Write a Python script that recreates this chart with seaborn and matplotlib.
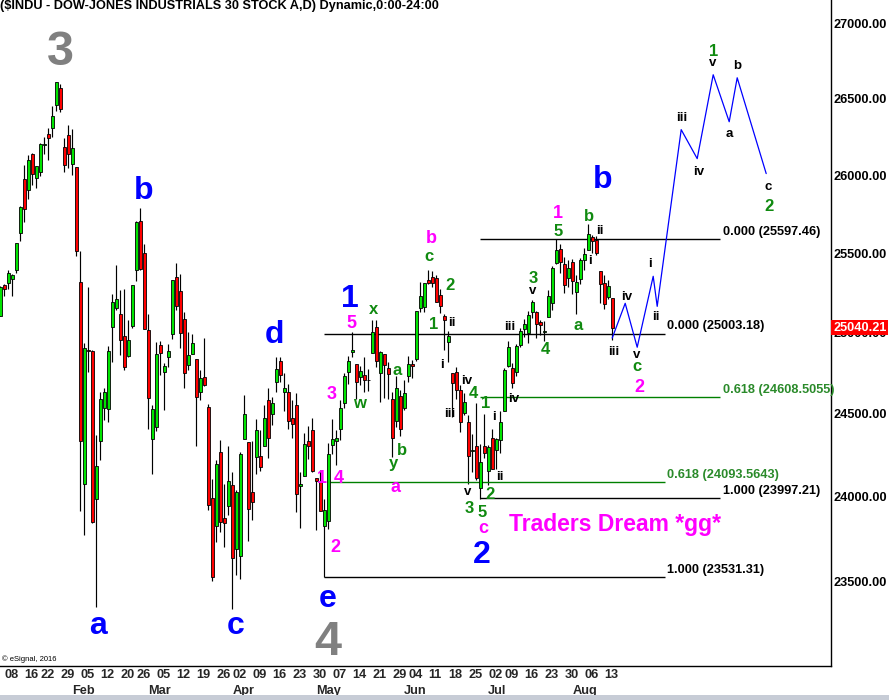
import numpy as np
import pandas as pd
import matplotlib
matplotlib.use("Agg")
import matplotlib.pyplot as plt
import matplotlib.transforms as mtrans
from matplotlib.ticker import NullLocator
import seaborn as sns

# ---------------- data ----------------
holidays = ["2018-01-15", "2018-02-19", "2018-03-30", "2018-05-28", "2018-07-04"]
dates = [d for d in pd.bdate_range("2018-01-05", "2018-08-15")
         if d.strftime("%Y-%m-%d") not in holidays]

opens = [25114, 25308, 25319, 25345, 25400, 25640, 25987, 25916, 26149, 25993,
         26030, 26205, 26279, 26318, 26466, 26580, 26194, 26268, 26083, 26062,
         25328, 24085, 24902, 24896, 23992, 24343, 24541, 24535, 25042, 25165,
         25124, 24990, 24865, 25050, 25400, 25715, 25509, 25025, 24357, 24430,
         24935, 24765, 24855, 25001, 25360, 25271, 25093, 24811, 24877, 24848,
         24644, 24732, 24550, 24003, 23833, 24279, 23880, 23953, 24076, 23697,
         23657, 24353, 24339, 24037, 24246, 24252, 24311, 24592, 24510, 24702,
         24830, 24644, 24643, 24480, 24562, 24071, 24134, 24346, 24410, 24117,
         24097, 23836, 23864, 24317, 24341, 24415, 24575, 24766, 24890, 24816,
         24732, 24749, 24714, 24883, 25047, 24760, 24877, 24787, 24600, 24466,
         24617, 24542, 24739, 24815, 24845, 25161, 25172, 25336, 25356, 25354,
         25245, 25110, 24950, 24760, 24764, 24657, 24512, 24461, 24283, 24315,
         24057, 24310, 24159, 24359, 24291, 24350, 24526, 24803, 24790, 24764,
         24930, 25034, 25008, 25135, 25135, 25075, 25010, 25104, 25195, 25447,
         25533, 25440, 25350, 25452, 25263, 25342, 25464, 25531, 25609, 25590,
         25398, 25320, 25229, 25227]
highs = [25299, 25311, 25399, 25375, 25575, 25812, 26075, 26140, 26154, 26071,
         26215, 26257, 26318, 26458, 26617, 26609, 26252, 26338, 26307, 26062,
         25520, 24946, 25294, 24903, 24382, 24640, 24668, 24925, 25250, 25433,
         25274, 25285, 25089, 25310, 25712, 25800, 25568, 25123, 24565, 24950,
         24955, 24818, 24937, 25336, 25449, 25378, 25139, 25015, 25000, 24848,
         24776, 24976, 24566, 24111, 24226, 24352, 24086, 24312, 24153, 24045,
         24277, 24622, 24339, 24346, 24478, 24410, 24561, 24667, 24610, 24856,
         24859, 24761, 24689, 24590, 24636, 24158, 24393, 24432, 24485, 24117,
         24166, 23996, 24331, 24479, 24412, 24595, 24761, 24866, 25012, 24816,
         24800, 24855, 24781, 25086, 25086, 24894, 24877, 24828, 24640, 24740,
         24654, 24717, 24866, 24839, 25146, 25326, 25317, 25402, 25398, 25373,
         25280, 25122, 25017, 24760, 24794, 24682, 24636, 24504, 24388, 24574,
         24327, 24509, 24318, 24418, 24364, 24526, 24790, 24958, 24818, 24938,
         25040, 25093, 25145, 25213, 25143, 25090, 25083, 25274, 25428, 25597,
         25566, 25486, 25465, 25474, 25373, 25480, 25542, 25692, 25624, 25618,
         25398, 25370, 25338, 25227]
lows = [25112, 25235, 25279, 25235, 25386, 25588, 25705, 25858, 25943, 25924,
        26005, 26145, 26110, 26260, 26430, 26423, 26030, 26056, 26010, 25490,
        23923, 23778, 24767, 23850, 23360, 24228, 24471, 24459, 24828, 25149,
        24873, 24780, 24855, 25038, 25334, 25400, 25029, 24417, 24144, 24401,
        24745, 24530, 24797, 24968, 25150, 24911, 24667, 24780, 24877, 24311,
        24590, 24681, 23928, 23509, 23737, 23800, 23710, 23900, 23344, 23547,
        23523, 24353, 23743, 23870, 24142, 24163, 24311, 24243, 24440, 24643,
        24701, 24525, 24418, 24363, 23914, 23823, 24134, 24232, 24156, 23808,
        23922, 23531, 23815, 24263, 24198, 24348, 24542, 24692, 24857, 24599,
        24686, 24643, 24645, 24883, 24796, 24583, 24604, 24600, 24247, 24431,
        24374, 24534, 24706, 24731, 24830, 25136, 25137, 25312, 25294, 25200,
        25131, 24900, 24828, 24491, 24602, 24397, 24501, 24085, 24158, 24107,
        23997, 24241, 24078, 24174, 24174, 24272, 24526, 24795, 24667, 24741,
        24917, 24979, 24946, 25101, 24977, 24993, 24956, 25104, 25151, 25440,
        25384, 25259, 25296, 25253, 25124, 25312, 25403, 25530, 25510, 25499,
        25197, 25159, 25218, 24965]
closes = [25296, 25283, 25386, 25370, 25575, 25803, 25792, 26110, 26017, 26066,
          26214, 26211, 26253, 26392, 26617, 26440, 26077, 26149, 26187, 25521,
          24346, 24913, 24893, 23860, 24191, 24601, 24640, 24893, 25200, 25219,
          24965, 24798, 24962, 25310, 25709, 25410, 25029, 24608, 24538, 24874,
          24884, 24801, 24895, 25336, 25178, 25007, 24758, 24873, 24946, 24611,
          24727, 24683, 23958, 23533, 24202, 23858, 23849, 24103, 23644, 24033,
          24265, 24505, 23933, 23979, 24408, 24189, 24483, 24360, 24573, 24786,
          24748, 24665, 24463, 24448, 24024, 24084, 24322, 24311, 24163, 24100,
          23925, 23930, 24263, 24357, 24361, 24542, 24739, 24831, 24899, 24706,
          24769, 24714, 24715, 25013, 24834, 24887, 24811, 24753, 24362, 24667,
          24416, 24635, 24813, 24799, 25146, 25241, 25317, 25322, 25320, 25201,
          25175, 25090, 24987, 24700, 24657, 24461, 24580, 24252, 24284, 24117,
          24216, 24271, 24307, 24174, 24356, 24456, 24776, 24919, 24700, 24924,
          25019, 25064, 25120, 25199, 25064, 25058, 25016, 25241, 25414, 25527,
          25451, 25307, 25415, 25333, 25326, 25463, 25502, 25629, 25583, 25509,
          25313, 25187, 25299, 25040]

# projected wave path (trading-day slot, price)
proj_x = [153, 156.25, 159.25, 163.25, 164.25, 170.25, 174.25, 178.25, 182.25, 184.25, 191.5]
proj_y = [24975, 25192, 24918, 25362, 25173, 26305, 26116, 26667, 26357, 26647, 26019]

# Fibonacci levels
fib_levels = [25597.46, 25003.18, 24608.5055, 24093.5643, 23997.21, 23531.31]
fib_text = ["0.000 (25597.46)", "0.000 (25003.18)", "0.618 (24608.5055)",
            "0.618 (24093.5643)", "1.000 (23997.21)", "1.000 (23531.31)"]
fib_kind = ["k", "k", "g", "g", "k", "k"]

price_ticks = [27000, 26500, 26000, 25500, 25000, 24500, 24000, 23500]
last_price = 25040.21
title = "($INDU - DOW-JONES INDUSTRIALS 30 STOCK A,D) Dynamic,0:00-24:00"

# wave labels: text, slot, price, style
wave_labels = [
    ("3", 15, 26846, "grey"), ("4", 82, 23180, "grey"),
    ("b", 35.75, 25929, "blue"), ("d", 68.5, 25013, "blue"), ("a", 24.5, 23249, "blue"),
    ("c", 58.75, 23249, "blue"), ("e", 81.75, 23405, "blue"), ("1", 87.5, 25237, "blue"),
    ("2", 120.5, 23680, "blue"), ("b", 150.5, 26000, "blue"),
    ("5", 87.75, 25075, "mag"), ("3", 82.75, 24638, "mag"), ("b", 107.75, 25616, "mag"),
    ("1", 80.5, 24125, "mag"), ("4", 84.75, 24125, "mag"), ("a", 98.75, 24065, "mag"),
    ("2", 83.75, 23715, "mag"), ("c", 120.75, 23816, "mag"), ("1", 139.5, 25775, "mag"),
    ("2", 159.75, 24681, "mag"),
    ("x", 93.25, 25156, "green"), ("w", 89.75, 24572, "green"), ("a", 99.25, 24773, "green"),
    ("b", 100.5, 24293, "green"), ("y", 98.25, 24197, "green"), ("c", 107.25, 25488, "green"),
    ("2", 112.5, 25312, "green"), ("1", 108.25, 25069, "green"), ("4", 118.25, 24645, "green"),
    ("1", 121.25, 24584, "green"), ("3", 117.25, 23946, "green"), ("5", 120.5, 23922, "green"),
    ("2", 122.5, 24029, "green"), ("3", 133.25, 25356, "green"), ("4", 136.25, 24914, "green"),
    ("5", 139.5, 25660, "green"), ("a", 144.5, 25056, "green"), ("b", 147.25, 25755, "green"),
    ("c", 159.25, 24797, "green"), ("1", 178.25, 26833, "green"), ("2", 192.25, 25820, "green"),
    ("ii", 113, 25075, "black"), ("i", 110.5, 24816, "black"), ("iv", 116.5, 24718, "black"),
    ("iii", 112.5, 24517, "black"), ("v", 116.75, 24035, "black"), ("i", 123.5, 24499, "black"),
    ("ii", 125, 24131, "black"), ("iv", 128.25, 24608, "black"), ("iii", 127.5, 25050, "black"),
    ("v", 133, 25268, "black"), ("ii", 150, 25660, "black"), ("i", 147.5, 25469, "black"),
    ("iii", 153.5, 24896, "black"), ("iv", 156.5, 25237, "black"), ("v", 159, 24871, "black"),
    ("i", 162.5, 25450, "black"), ("ii", 164, 25112, "black"), ("iii", 170.5, 26390, "black"),
    ("iv", 174.5, 26038, "black"), ("v", 178, 26746, "black"), ("a", 182.25, 26279, "black"),
    ("b", 184.25, 26733, "black"), ("c", 192, 25935, "black"),
]

# ---------------- style ----------------
sns.set_style("white")
plt.rcParams["font.family"] = ["Liberation Sans", "DejaVu Sans"]

W, H = 889, 700
fig = plt.figure(figsize=(W / 100, H / 100), dpi=100)
ax = fig.add_axes([0, 34 / H, 831 / W, 666 / H])

df = pd.DataFrame({"date": dates, "open": opens, "high": highs, "low": lows, "close": closes})
df["slot"] = np.arange(len(df))
df["up"] = df["close"] >= df["open"]

GREEN_C = "#00e400"
RED_C = "#ff0000"

# wicks
ax.vlines(df["slot"], df["low"], df["high"], color="black", lw=0.85, zorder=2)
# bodies
body_bottom = np.minimum(df["open"], df["close"])
body_h = np.maximum((df["close"] - df["open"]).abs(), 4)
ax.bar(df["slot"], body_h, bottom=body_bottom, width=0.8,
       color=np.where(df["up"], GREEN_C, RED_C), edgecolor="black", linewidth=0.6, zorder=3)

# projection path
sns.lineplot(x=proj_x, y=proj_y, sort=False, color="#0000ff", lw=0.9, ax=ax, zorder=4)

# fib lines
fib_start = [120, 81, 120, 82, 120, 81]
fib_end = [180, 166.25, 180, 166.25, 180, 166.25]
fib_lab_x = [180.7, 166.7, 180.7, 166.7, 180.7, 166.7]
for lev, txt, k, s, e, lx in zip(fib_levels, fib_text, fib_kind, fib_start, fib_end, fib_lab_x):
    col = "#000000" if k == "k" else "#008000"
    tcol = "#000000" if k == "k" else "#2a8a2a"
    ax.hlines(lev, s, e, colors=col, lw=1.0, zorder=2.5)
    ax.annotate(txt, (lx, lev), xytext=(0, 5.5), textcoords="offset points",
                ha="left", va="center", fontsize=9.2, color=tcol, fontweight="bold", zorder=5)

# scales
ax.set_yscale("log")
ax.set_ylim(23017, 27168)
ax.set_xlim(-0.05, 207.7)
for axis in (ax.xaxis, ax.yaxis):
    axis.set_major_locator(NullLocator())
    axis.set_minor_locator(NullLocator())
ax.set_xlabel("")
ax.set_ylabel("")
for sp in ("top", "left"):
    ax.spines[sp].set_visible(False)
for sp in ("right", "bottom"):
    ax.spines[sp].set_color("black")
    ax.spines[sp].set_linewidth(1.0)

# wave labels
styles = {
    "grey": dict(color="#808080", fontsize=35),
    "blue": dict(color="#0000ff", fontsize=23),
    "mag": dict(color="#ff00ff", fontsize=13),
    "green": dict(color="#108a10", fontsize=12),
    "black": dict(color="#000000", fontsize=9.5),
}
for txt, sx, py, st in wave_labels:
    kw = styles[st]
    fs = kw["fontsize"]
    if any(ch in "0123456789bdi" for ch in txt):
        dy = -0.1 * fs
    elif "y" in txt:
        dy = 0.11 * fs
    else:
        dy = 0
    ax.annotate(txt, (sx, py), xytext=(0, dy), textcoords="offset points",
                ha="center", va="center", fontweight="bold", zorder=6, **kw)

ax.annotate("Traders Dream *gg*", (127.25, 23845), ha="left", va="center",
            fontsize=16.5, fontweight="bold", color="#ff00ff", zorder=6)

# right price axis labels
tr_y = mtrans.blended_transform_factory(fig.transFigure, ax.transData)
for p in price_ticks:
    ax.text(833 / W, p, f"{p:.2f}", transform=tr_y, ha="left", va="center",
            fontsize=9.2, fontweight="bold", color="black", clip_on=False, zorder=1)
ax.text(833 / W, last_price, f"{last_price:.2f}", transform=tr_y, ha="left", va="center",
        fontsize=9.2, fontweight="bold", color="white", clip_on=False, zorder=10,
        bbox=dict(boxstyle="square,pad=0.12", fc="#ff0000", ec="none"))

# bottom date labels
tr_x = mtrans.blended_transform_factory(ax.transData, fig.transFigure)
weeks = df.groupby(df["date"].dt.isocalendar().week.values)["slot"].min().sort_index()
for s in weeks.values[1:]:
    ax.text(s, 1 - 675 / H, df["date"].iloc[s].strftime("%d"), transform=tr_x,
            ha="left", va="center", fontsize=9.2, fontweight="bold", clip_on=False)
months = df.groupby(df["date"].dt.month)["slot"].min()
for m, s in months.items():
    if m == 1:
        continue
    ax.text(s, 1 - 691 / H, df["date"].iloc[s].strftime("%b"), transform=tr_x,
            ha="left", va="center", fontsize=9.2, fontweight="bold", clip_on=False)

# title and misc
fig.text(0.5 / W, 1 - 6.5 / H, title, ha="left", va="center", fontsize=9.2,
         fontweight="bold", color="black")
fig.text(2 / W, 1 - 659 / H, "\u00a9 eSignal, 2016", ha="left", va="center",
         fontsize=5.5, color="black")
fig.patches.append(plt.Rectangle((0, 0), 1, 5 / H, transform=fig.transFigure,
                                 fc="#c7ccd6", ec="none"))

fig.savefig("out.png", dpi=100, facecolor="white")
